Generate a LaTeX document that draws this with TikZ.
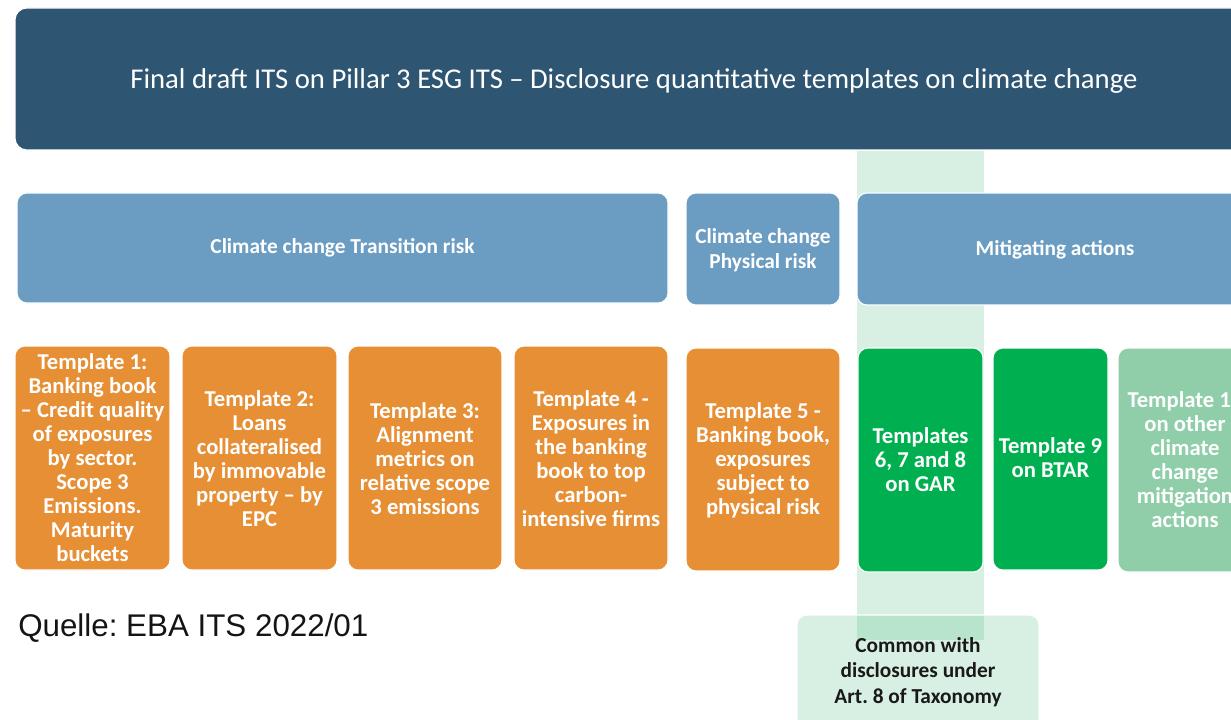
\documentclass[tikz,border=0pt]{standalone}
\usepackage{fontspec}
\setmainfont{Carlito}
\newfontfamily\quellefont{Liberation Sans}
\definecolor{titleblue}{RGB}{46,85,114}
\definecolor{headblue}{RGB}{107,157,195}
\definecolor{tplorange}{RGB}{231,143,53}
\definecolor{tplgreen}{RGB}{0,176,80}
\definecolor{tpllight}{RGB}{143,206,169}
\definecolor{stripgreen}{RGB}{60,180,115}
\frenchspacing
\begin{document}
\begin{tikzpicture}[x=0.75pt,y=0.75pt,yscale=-1,xscale=1,
  box/.style={draw=white,line width=0.8pt,rounded corners=7.5pt},
  headtext/.style={text=white,align=center,font=\fontsize{16}{19}\selectfont\bfseries},
  tpltext/.style={text=white,align=center,font=\fontsize{17}{18}\selectfont\bfseries}]
\clip (0,0) rectangle (1231,720);
\useasboundingbox (0,0) rectangle (1231,720);

%Shape: Strip behind GAR column
\fill [stripgreen,fill opacity=0.2] (857,151) rectangle (984,640);

%Shape: Title box
\draw [box,rounded corners=9pt,fill=titleblue] (15,8) rectangle (1253,150);
% Text Node
\node (title) at (634,81) [text=white,font=\fontsize{21.5}{25}\selectfont] {Final draft ITS on Pillar 3 ESG ITS -- Disclosure quantitative templates on climate change};

%Shape: Header boxes
\draw [box,fill=headblue] (17,193) rectangle (668,303);
\draw [box,fill=headblue] (686,193) rectangle (840,305);
\draw [box,fill=headblue] (857,193) rectangle (1253,305);
% Text Node
\node (transition) at (342.5,248) [headtext] {Climate change Transition risk};
\node (physical) at (763,250) [headtext] {Climate change\\Physical risk};
\node (mitigating) at (1055,250) [headtext] {Mitigating actions};

%Shape: Template boxes
\draw [box,fill=tplorange] (15,346) rectangle (170,570);
\draw [box,fill=tplorange] (182,346) rectangle (337,570);
\draw [box,fill=tplorange] (348,346) rectangle (502,570);
\draw [box,fill=tplorange] (514,346) rectangle (668,570);
\draw [box,fill=tplorange] (686,348) rectangle (840,571);
\draw [box,fill=tplgreen] (858,348) rectangle (983,572);
\draw [box,fill=tplgreen] (993,348) rectangle (1108,570);
\draw [box,fill=tpllight] (1118,348) rectangle (1252,572);
% Text Node
\node (tplone) at (92.5,458) [tpltext] {Template 1:\\Banking book\\-- Credit quality\\of exposures\\by sector.\\Scope 3\\Emissions.\\Maturity\\buckets};
\node (tpltwo) at (259.5,459) [tpltext] {Template 2:\\Loans\\collateralised\\by immovable\\property -- by\\EPC};
\node (tplthree) at (425,459) [tpltext] {Template 3:\\Alignment\\metrics on\\relative scope\\3 emissions};
\node (tplfour) at (591,459) [tpltext] {Template 4 -\\Exposures in\\the banking\\book to top\\carbon-\\intensive firms};
\node (tplfive) at (763,460) [tpltext] {Template 5 -\\Banking book,\\exposures\\subject to\\physical risk};
\node (tplgar) at (920.5,460) [tpltext] {Templates\\6, 7 and 8\\on GAR};
\node (tplbtar) at (1050.5,458) [tpltext] {Template 9\\on BTAR};
\node (tplten) at (1185,460) [tpltext] {Template 10\\on other\\climate\\change\\mitigation\\actions};

%Shape: Common box
\draw [box,draw=white,fill=stripgreen,fill opacity=0.2] (797,615) rectangle (1039,735);
% Text Node
\node (common) at (918,672) [align=center,text={rgb,255:red,25;green,25;blue,25},font=\fontsize{16}{19}\selectfont\bfseries] {Common with\\disclosures under\\Art. 8 of Taxonomy};

% Text Node
\node (quelle) at (18,628) [anchor=west,inner sep=0pt,text={rgb,255:red,20;green,20;blue,20},font=\quellefont\fontsize{23.5}{27}\selectfont] {Quelle: EBA ITS 2022/01};
\end{tikzpicture}
\end{document}
